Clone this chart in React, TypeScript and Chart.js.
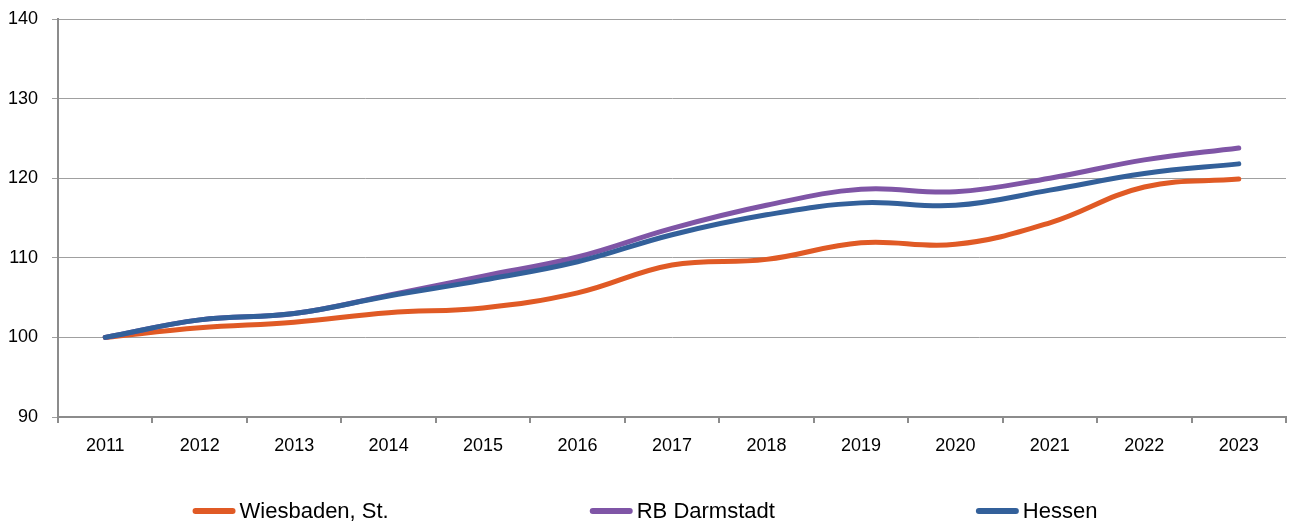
import React, { useEffect, useRef } from "react";
import { Chart, registerables } from "chart.js";

Chart.register(...registerables);

const years = ["2011", "2012", "2013", "2014", "2015", "2016", "2017", "2018", "2019", "2020", "2021", "2022", "2023"];
const wiesbaden = [100, 101.2, 101.9, 103.1, 103.7, 105.6, 109.1, 109.8, 111.9, 111.7, 114.4, 118.9, 119.9];
const rbDarmstadt = [100, 102.2, 103.0, 105.3, 107.7, 110.1, 113.7, 116.6, 118.6, 118.3, 120.0, 122.3, 123.8];
const hessen = [100, 102.2, 103.0, 105.2, 107.2, 109.5, 112.9, 115.4, 116.9, 116.6, 118.5, 120.6, 121.8];
const seriesNames = ["Wiesbaden, St.", "RB Darmstadt", "Hessen"];
const seriesColors = ["#E05A25", "#7F55A6", "#33609A"];
const yMin = 90;
const yMax = 140;
const yStep = 10;

const FONT = "'Liberation Sans', Arial, sans-serif";

const bottomLegend = {
  id: "bottomLegend",
  afterDraw(chart: any) {
    const ctx = chart.ctx;
    const ds = chart.data.datasets;
    const lineW = 43;
    const textGap = 4;
    const itemGap = 201;
    const y = 511;
    ctx.save();
    ctx.font = `22px ${FONT}`;
    ctx.textBaseline = "middle";
    ctx.textAlign = "left";
    const widths = ds.map((d: any) => lineW + textGap + ctx.measureText(d.label).width);
    const total = widths.reduce((a: number, b: number) => a + b, 0) + itemGap * (ds.length - 1);
    let x = chart.width / 2 - total / 2;
    ds.forEach((d: any, i: number) => {
      ctx.strokeStyle = d.borderColor;
      ctx.lineWidth = 6;
      ctx.lineCap = "round";
      ctx.beginPath();
      ctx.moveTo(x + 3, y);
      ctx.lineTo(x + lineW - 3, y);
      ctx.stroke();
      ctx.fillStyle = "#000000";
      ctx.fillText(d.label, x + lineW + textGap, y + 1);
      x += widths[i] + itemGap;
    });
    ctx.restore();
  },
};

export default function App() {
  const ref = useRef<HTMLCanvasElement | null>(null);

  useEffect(() => {
    document.body.style.margin = "0";
    if (!ref.current) return;
    const values = [wiesbaden, rbDarmstadt, hessen];
    const chart = new Chart(ref.current, {
      type: "line",
      data: {
        labels: years,
        datasets: values.map((v, i) => ({
          label: seriesNames[i],
          data: v,
          borderColor: seriesColors[i],
          backgroundColor: seriesColors[i],
          borderWidth: 5,
          borderCapStyle: "round" as const,
          borderJoinStyle: "round" as const,
          pointRadius: 0,
          pointHoverRadius: 0,
          tension: 0.4,
          fill: false,
          order: 2 - i,
        })),
      },
      options: {
        responsive: false,
        animation: false,
        layout: { padding: { top: 19, right: 4, left: 0, bottom: 70 } },
        plugins: {
          legend: { display: false },
          tooltip: { enabled: false },
          title: { display: false },
        },
        scales: {
          x: {
            type: "category",
            offset: true,
            grid: {
              display: true,
              offset: true,
              drawOnChartArea: false,
              tickLength: 6,
              color: "#8c8c8c",
              lineWidth: 2,
            },
            border: { display: true, color: "#8c8c8c", width: 2 },
            ticks: {
              color: "#000000",
              font: { family: FONT, size: 18 },
              padding: 12,
              maxRotation: 0,
              autoSkip: false,
            },
            afterFit: (scale: any) => {
              scale.height = 40;
            },
          },
          y: {
            min: yMin,
            max: yMax,
            ticks: {
              stepSize: yStep,
              color: "#000000",
              font: { family: FONT, size: 18 },
              padding: 14,
            },
            grid: {
              color: "#a0a0a0",
              lineWidth: 1,
              tickLength: 6,
            },
            border: { display: true, color: "#8c8c8c", width: 2 },
            afterFit: (scale: any) => {
              scale.width = 58;
              scale.paddingTop = 0;
              scale.paddingBottom = 0;
            },
          },
        },
      },
      plugins: [bottomLegend],
    });
    return () => chart.destroy();
  }, []);

  return (
    <div style={{ width: 1290, height: 527 }}>
      <canvas ref={ref} width={1290} height={527} style={{ display: "block" }} />
    </div>
  );
}
